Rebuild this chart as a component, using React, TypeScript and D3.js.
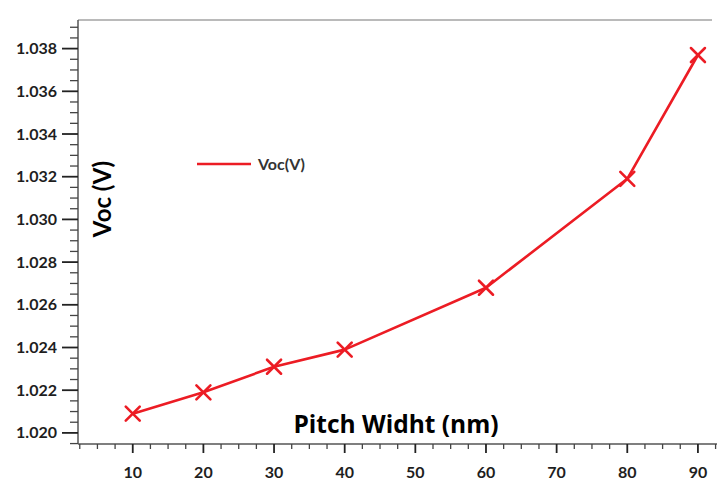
import React from "react";
import * as d3 from "d3";

const pitchWidths = [10, 20, 30, 40, 60, 80, 90];
const vocValues = [1.0209, 1.0219, 1.0231, 1.0239, 1.0268, 1.0319, 1.0377];
const xMajorTicks = [10, 20, 30, 40, 50, 60, 70, 80, 90];
const yMajorTicks = [1.02, 1.022, 1.024, 1.026, 1.028, 1.03, 1.032, 1.034, 1.036, 1.038];
const seriesName = "Voc(V)";
const xTitle = "Pitch Widht (nm)";
const yTitle = "Voc (V)";

const W = 717;
const H = 480;
const left = 78;
const right = 717;
const top = 20;
const bottom = 444;
const RED = "#ec1c24";
const INK = "#1e1e1e";
const FONT = "Lato, 'Open Sans', sans-serif";
const TITLE_FONT = "'Open Sans', Lato, sans-serif";

export default function App() {
  const x = d3.scaleLinear().domain([2.25, 92.7]).range([left, right]);
  const y = d3.scaleLinear().domain([1.01948, 1.03934]).range([bottom, top]);

  const xMinor = d3.range(2.5, 92.6, 2.5).filter((v) => Math.abs(v % 10) > 1e-6);
  const yMinor = d3
    .range(1.0195, 1.03934, 0.0005)
    .filter((v) => !yMajorTicks.some((t) => Math.abs(t - v) < 1e-7));

  const line = d3
    .line<number>()
    .x((_, i) => x(pitchWidths[i]))
    .y((d) => y(d));

  const pts = vocValues.map((v, i) => [x(pitchWidths[i]), y(v)]);

  return (
    <svg
      width={W}
      height={H}
      style={{ position: "absolute", left: 0, top: 0, background: "#fff" }}
      fontFamily={FONT}
    >
      {/* frame lines */}
      <line x1={left} y1={top} x2={712} y2={top} stroke="#777" strokeWidth={1.2} />
      <line x1={left} y1={top} x2={left} y2={bottom} stroke="#555" strokeWidth={1.5} />
      <line x1={left} y1={bottom} x2={right} y2={bottom} stroke="#555" strokeWidth={1.5} />

      {/* y ticks */}
      {yMinor.map((v) => (
        <line key={"ym" + v} x1={left - 8} x2={left} y1={y(v)} y2={y(v)} stroke="#444" strokeWidth={1.3} />
      ))}
      {yMajorTicks.map((v) => (
        <g key={"y" + v}>
          <line x1={left - 16} x2={left} y1={y(v)} y2={y(v)} stroke="#222" strokeWidth={1.8} />
          <text
            x={57}
            y={y(v)}
            dy="0.35em"
            textAnchor="end"
            fontSize={16}
            fontWeight={700}
            fill={INK}
          >
            {d3.format(".3f")(v)}
          </text>
        </g>
      ))}

      {/* x ticks */}
      {xMinor.map((v) => (
        <line key={"xm" + v} x1={x(v)} x2={x(v)} y1={bottom} y2={bottom + 5} stroke="#444" strokeWidth={1.3} />
      ))}
      {xMajorTicks.map((v) => (
        <g key={"x" + v}>
          <line x1={x(v)} x2={x(v)} y1={bottom} y2={bottom + 9} stroke="#222" strokeWidth={1.8} />
          <text x={x(v)} y={472} dy="0.35em" textAnchor="middle" fontSize={16} fontWeight={700} fill={INK}>
            {v}
          </text>
        </g>
      ))}

      {/* series */}
      <path d={line(vocValues) || ""} fill="none" stroke={RED} strokeWidth={2.6} strokeLinejoin="round" />
      {pts.map(([px, py], i) => (
        <g key={"m" + i} stroke={RED} strokeWidth={2.6} strokeLinecap="round">
          <line x1={px - 7} y1={py - 7} x2={px + 7} y2={py + 7} />
          <line x1={px - 7} y1={py + 7} x2={px + 7} y2={py - 7} />
        </g>
      ))}

      {/* legend */}
      <line x1={197} x2={251} y1={164} y2={164} stroke={RED} strokeWidth={2.6} />
      <text x={258} y={164} dy="0.35em" fontSize={16} fontWeight={700} fill="#333">
        {seriesName}
      </text>

      {/* axis titles */}
      <text x={396} y={424} dy="0.35em" textAnchor="middle" fontSize={24.5} fontWeight={700} fill="#000" fontFamily={TITLE_FONT}>
        {xTitle}
      </text>
      <text
        transform={`translate(103,199) rotate(-90)`}
        dy="0.35em"
        textAnchor="middle"
        fontSize={24}
        fontWeight={700}
        fill="#000"
      >
        {yTitle}
      </text>
    </svg>
  );
}
